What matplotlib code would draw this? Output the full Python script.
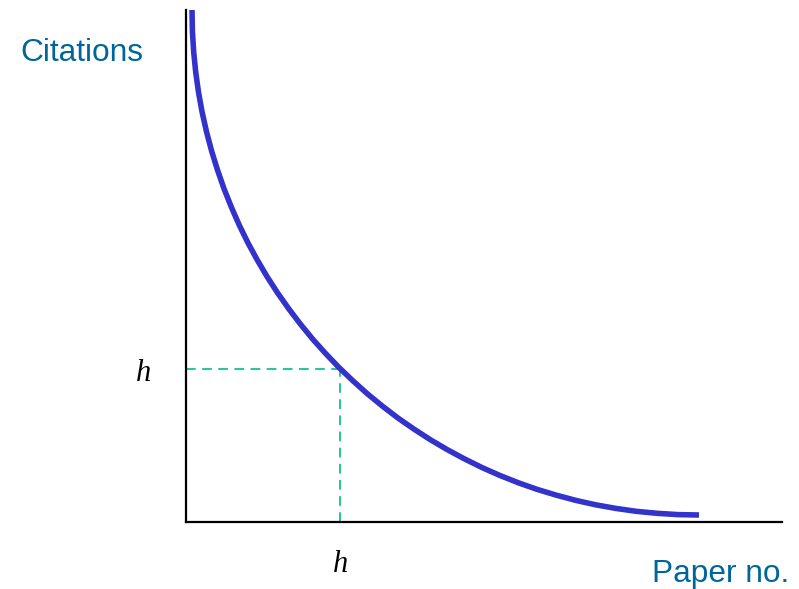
import matplotlib
matplotlib.use("Agg")
import matplotlib.pyplot as plt

# Data (arbitrary units: paper number vs citations)
paper_no = [6.0, 6.4, 7.65, 9.7, 12.5, 16.1, 20.5, 25.6, 31.5, 38.0, 45.3, 53.2,
            61.8, 71.1, 81.0, 91.5, 102.7, 114.4, 126.7, 139.6, 153.0, 167.0,
            181.4, 196.4, 211.8, 227.8, 244.2, 261.0, 278.3, 295.9, 314.0, 332.4,
            351.2, 370.4, 389.9, 409.7, 429.8, 450.2, 470.9, 491.8, 513.0]
citations = [512.0, 491.1, 470.4, 450.0, 429.8, 409.9, 390.3, 371.0, 352.0, 333.3,
             315.0, 297.0, 279.4, 262.3, 245.5, 229.2, 213.3, 197.9, 182.9, 168.5,
             154.5, 141.1, 128.2, 115.9, 104.1, 93.0, 82.4, 72.5, 63.2, 54.5,
             46.5, 39.2, 32.6, 26.8, 21.6, 17.2, 13.6, 10.7, 8.7, 7.4, 7.0]
h_value = 153.5
x_max = 596
y_max = 512

W, H = 799, 589
fig = plt.figure(figsize=(W / 100, H / 100), dpi=100)
ax = fig.add_axes([186 / W, (H - 522) / H, 596 / W, 512 / H])
ax.set_xlim(0, x_max)
ax.set_ylim(0, y_max)

ax.plot(paper_no, citations, color="#3333cc", lw=4.0, solid_capstyle="butt",
        solid_joinstyle="round", clip_on=False, zorder=3)

dash_color = "#1ec89e"
ax.plot([0, h_value], [h_value, h_value], color=dash_color, lw=1.4,
        dashes=(5, 3.3), zorder=2)
ax.plot([h_value, h_value], [0, h_value], color=dash_color, lw=1.4,
        dashes=(5, 3.3), zorder=2)

for s in ["top", "right"]:
    ax.spines[s].set_visible(False)
for s in ["left", "bottom"]:
    ax.spines[s].set_linewidth(1.6)
    ax.spines[s].set_color("black")
ax.set_xticks([])
ax.set_yticks([])

label_color = "#006699"
fig.text(20 / W, 1 - 53 / H, "Citations", color=label_color, fontsize=22.8,
         family="Liberation Sans", ha="left", va="center")
fig.text(789 / W, 1 - 582 / H, "Paper no.", color=label_color, fontsize=22.8,
         family="Liberation Sans", ha="right", va="baseline")

fig.text(143.7 / W, 1 - 380.7 / H, "h", fontsize=22, family="Liberation Serif",
         style="italic", ha="center", va="baseline")
fig.text(340.5 / W, 1 - 572 / H, "h", fontsize=22, family="Liberation Serif",
         style="italic", ha="center", va="baseline")

fig.savefig("out.png", dpi=100)
